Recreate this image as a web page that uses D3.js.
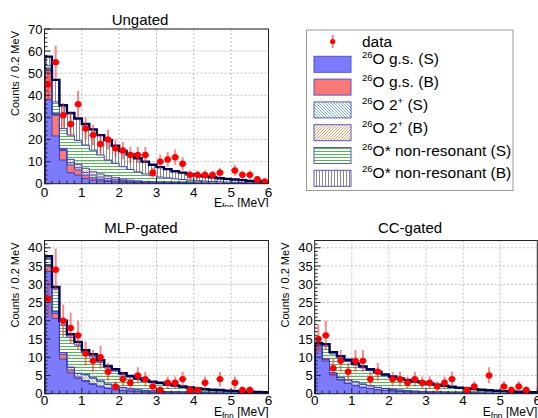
<!DOCTYPE html>
<html>
<head>
<meta charset="utf-8">
<script src="https://cdn.jsdelivr.net/npm/d3@7"></script>
<style>
  body { margin: 0; background: #fff; }
  svg { display: block; font-family: "Liberation Sans", Arial, sans-serif; }
</style>
</head>
<body>
<div id="chart"></div>
<script>
// 26O decay-energy spectra: stacked fit components + data, three gates
const W = 538, H = 418;
const BIN_W = 0.2;          // MeV per bin, 30 bins from 0 to 6
const N_BINS = 30;

const xTickValues = [0, 1, 2, 3, 4, 5, 6];
const ungatedTicks = [0, 10, 20, 30, 40, 50, 60, 70];
const gatedTicks = [0, 5, 10, 15, 20, 25, 30, 35, 40];

// ---------- Ungated ----------
const ungatedData = [45, 55, 31, 27, 36, 25, 22, 18, 20, 16, 15, 13, 13, 13, 5, 10, 11, 12, 9, 4, 4, 4, 4, 5, 0, 6, 4, 4, 2, 1];
const ungatedGsS = [38, 21.6, 10.7, 5, 3.9, 2.4, 1.7, 1.3, 1.0, 0.8, 0.6, 0.5, 0.4, 0.35, 0.3, 0.26, 0.23, 0.2, 0.18, 0.16, 0.14, 0.12, 0.11, 0.1, 0.09, 0.08, 0.07, 0.06, 0.05, 0.05];
const ungatedGsB = [13.2, 9.4, 4.3, 3.5, 2.3, 1.5, 1.0, 0.7, 0.5, 0.4, 0.3, 0.2, 0.2, 0.15, 0.12, 0.1, 0.08, 0.07, 0.06, 0.05, 0.04, 0.04, 0.03, 0.02, 0.02, 0.02, 0.02, 0.02, 0.02, 0.01];
const ungatedExS = [0.4, 0.3, 0.5, 1.0, 1.0, 1.2, 1.2, 1.0, 0.8, 0.6, 0.5, 0.4, 0.3, 0.25, 0.2, 0.16, 0.13, 0.11, 0.09, 0.08, 0.07, 0.06, 0.05, 0.05, 0.04, 0.03, 0.03, 0.02, 0.02, 0.02];
const ungatedExB = [0.4, 0.5, 0.5, 1.5, 1.6, 1.9, 1.5, 1.4, 1.2, 0.9, 0.7, 0.5, 0.4, 0.3, 0.23, 0.18, 0.16, 0.12, 0.11, 0.09, 0.08, 0.07, 0.06, 0.05, 0.04, 0.04, 0.03, 0.03, 0.02, 0.02];
const ungatedNrS = [1.4, 5.2, 9, 11, 10.7, 10.5, 9.8, 8.6, 7.2, 6.5, 5.6, 4.8, 4.0, 3.35, 2.75, 2.3, 2.0, 1.7, 1.46, 1.22, 1.02, 0.86, 0.75, 0.63, 0.51, 0.43, 0.35, 0.27, 0.19, 0.15];
const ungatedNrB = [4.1, 10, 10.5, 10, 10, 9.5, 9.4, 9, 9.1, 8, 7.1, 6.8, 6.2, 5.6, 5.0, 4.5, 4.0, 3.4, 3.1, 2.7, 2.45, 2.15, 1.9, 1.65, 1.5, 1.3, 1.1, 0.9, 0.8, 0.65];

// ---------- MLP-gated ----------
const mlpData = [26, 34, 20, 18, 16, 11, 9, 10, 6, 2, 4, 3, 5, 4, 2, 1, 3, 3, 4, 1, 1, 3, 0, 4, 0, 3, 1, 1, 0, 0];
const mlpGsS = [33.5, 20.6, 9.5, 5.7, 4.2, 3.3, 2.5, 1.9, 1.4, 1.1, 0.85, 0.7, 0.55, 0.45, 0.38, 0.32, 0.27, 0.23, 0.2, 0.17, 0.15, 0.13, 0.11, 0.1, 0.09, 0.08, 0.07, 0.06, 0.05, 0.05];
const mlpGsB = [1.5, 1.4, 1.2, 0.8, 0.4, 0.3, 0.25, 0.2, 0.17, 0.14, 0.12, 0.1, 0.09, 0.08, 0.07, 0.06, 0.05, 0.05, 0.04, 0.04, 0.03, 0.03, 0.03, 0.02, 0.02, 0.02, 0.02, 0.02, 0.01, 0.01];
const mlpExS = [0.3, 0.4, 0.5, 0.7, 0.9, 1.6, 1.5, 1.3, 1.0, 0.8, 0.65, 0.5, 0.42, 0.35, 0.3, 0.26, 0.22, 0.19, 0.16, 0.14, 0.12, 0.1, 0.09, 0.08, 0.07, 0.06, 0.05, 0.05, 0.04, 0.04];
const mlpExB = [0.1, 0.1, 0.1, 0.1, 0.1, 0.1, 0.1, 0.08, 0.07, 0.06, 0.05, 0.05, 0.04, 0.04, 0.03, 0.03, 0.03, 0.02, 0.02, 0.02, 0.02, 0.01, 0.01, 0.01, 0.01, 0.01, 0.01, 0.01, 0.01, 0.01];
const mlpNrS = [1.6, 6.4, 7.5, 8.2, 7.7, 5.8, 5.75, 5.1, 4.4, 4.1, 3.5, 3.15, 2.75, 2.45, 2.2, 2.05, 1.75, 1.55, 1.35, 1.15, 0.95, 0.8, 0.7, 0.64, 0.52, 0.42, 0.35, 0.27, 0.25, 0.19];
const mlpNrB = [0.7, 0.4, 1.2, 0.8, 0.9, 0.8, 0.7, 0.6, 0.55, 0.5, 0.45, 0.4, 0.36, 0.32, 0.3, 0.28, 0.26, 0.24, 0.22, 0.2, 0.18, 0.17, 0.16, 0.15, 0.14, 0.13, 0.12, 0.11, 0.1, 0.1];

// ---------- CC-gated ----------
const ccData = [15, 16, 7, 9, 6, 9, 9, 4, 6, 0, 4, 4, 3, 4, 3, 3, 2, 3, 4, 0, 1, 2, 0, 5, 0, 2, 1, 2, 1, 0];
const ccGsS = [12.4, 8.9, 5.1, 3.7, 2.8, 2.2, 1.7, 1.4, 1.1, 0.9, 0.75, 0.6, 0.5, 0.42, 0.36, 0.3, 0.26, 0.22, 0.19, 0.16, 0.14, 0.12, 0.1, 0.09, 0.08, 0.07, 0.06, 0.05, 0.05, 0.04];
const ccGsB = [0.6, 0.4, 0.3, 0.2, 0.15, 0.12, 0.1, 0.08, 0.07, 0.06, 0.05, 0.04, 0.04, 0.03, 0.03, 0.02, 0.02, 0.02, 0.02, 0.01, 0.01, 0.01, 0.01, 0.01, 0.01, 0.01, 0.01, 0.01, 0.01, 0.01];
const ccExS = [0.1, 0.2, 0.3, 0.5, 0.8, 0.9, 0.8, 0.7, 0.55, 0.45, 0.38, 0.3, 0.26, 0.22, 0.19, 0.16, 0.14, 0.12, 0.1, 0.09, 0.08, 0.07, 0.06, 0.05, 0.05, 0.04, 0.04, 0.03, 0.03, 0.03];
const ccExB = [0.05, 0.05, 0.05, 0.05, 0.05, 0.05, 0.05, 0.05, 0.05, 0.05, 0.05, 0.05, 0.05, 0.05, 0.05, 0.05, 0.05, 0.05, 0.04, 0.04, 0.04, 0.03, 0.03, 0.03, 0.02, 0.02, 0.02, 0.02, 0.02, 0.02];
const ccNrS = [0.35, 3.75, 5.15, 5.35, 5.0, 4.58, 4.45, 4.09, 3.88, 3.52, 3.17, 2.94, 2.7, 2.45, 2.26, 2.07, 1.85, 1.63, 1.4, 1.22, 1.06, 0.91, 0.8, 0.68, 0.58, 0.49, 0.41, 0.35, 0.29, 0.25];
const ccNrB = [0.4, 0.3, 0.5, 0.5, 0.5, 0.45, 0.4, 0.38, 0.35, 0.32, 0.3, 0.27, 0.25, 0.23, 0.21, 0.2, 0.18, 0.16, 0.15, 0.13, 0.12, 0.11, 0.1, 0.09, 0.08, 0.07, 0.06, 0.06, 0.05, 0.05];

const layerKeys = ["gsS", "gsB", "exS", "exB", "nrS", "nrB"];
const legendEntries = [
  { key: "gsS", parts: [["sup", "26"], ["n", "O g.s. (S)"]] },
  { key: "gsB", parts: [["sup", "26"], ["n", "O g.s. (B)"]] },
  { key: "exS", parts: [["sup", "26"], ["n", "O 2"], ["sup", "+"], ["n", " (S)"]] },
  { key: "exB", parts: [["sup", "26"], ["n", "O 2"], ["sup", "+"], ["n", " (B)"]] },
  { key: "nrS", parts: [["sup", "26"], ["n", "O* non-resonant (S)"]] },
  { key: "nrB", parts: [["sup", "26"], ["n", "O* non-resonant (B)"]] }
];

const fills = {
  gsS: "#7b7bfc",
  gsB: "#f97878",
  exS: "url(#hatchExS)",
  exB: "url(#hatchExB)",
  nrS: "url(#hatchNrS)",
  nrB: "url(#hatchNrB)"
};
const outlineColor = "#4040b8";
const totalColor = "#000050";
const dataColor = "#ff0000";

const svg = d3.select("#chart").append("svg")
  .attr("width", W).attr("height", H)
  .attr("viewBox", `0 0 ${W} ${H}`);

const defs = svg.append("defs");

// hatch patterns (ROOT-style fill styles 3004/3005/3006/3007)
function addHatch(id, w, h, segs, color, sw) {
  const p = defs.append("pattern").attr("id", id)
    .attr("patternUnits", "userSpaceOnUse").attr("width", w).attr("height", h);
  segs.forEach(s => {
    p.append("line").attr("x1", s[0]).attr("y1", s[1]).attr("x2", s[2]).attr("y2", s[3])
      .style("stroke", color).style("stroke-width", sw);
  });
}
addHatch("hatchExS", 3, 3, [[0, 0, 3, 3], [-1, 2, 1, 4], [2, -1, 4, 1]], "#6aa3e0", 0.9);
addHatch("hatchExB", 3, 3, [[0, 3, 3, 0], [-1, 1, 1, -1], [2, 4, 4, 2]], "#f29050", 0.9);
addHatch("hatchNrS", 4, 3, [[0, 1.5, 4, 1.5]], "#40b040", 0.9);
addHatch("hatchNrB", 3, 4, [[1.5, 0, 1.5, 4]], "#7c7c7c", 0.9);

defs.append("clipPath").attr("id", "upper-pads")
  .append("rect").attr("x", 0).attr("y", 0).attr("width", W).attr("height", 207);

const panels = [
  {
    id: "ungated", title: "Ungated", titleX: 140, titleY: 24.5,
    left: 44.5, right: 268.5, top: 29, bottom: 183.7, yMax: 70, yTicks: ungatedTicks, yMinor: 2,
    yTitleX: 19, xLabelY: 197, xTitleY: 207, clip: "upper-pads",
    data: ungatedData, layers: { gsS: ungatedGsS, gsB: ungatedGsB, exS: ungatedExS, exB: ungatedExB, nrS: ungatedNrS, nrB: ungatedNrB }
  },
  {
    id: "mlp", title: "MLP-gated", titleX: 141, titleY: 233,
    left: 44.5, right: 268.5, top: 240.5, bottom: 393.7, yMax: 42, yTicks: gatedTicks, yMinor: 1,
    yTitleX: 19, xLabelY: 405, xTitleY: 416, clip: null,
    data: mlpData, layers: { gsS: mlpGsS, gsB: mlpGsB, exS: mlpExS, exB: mlpExB, nrS: mlpNrS, nrB: mlpNrB }
  },
  {
    id: "cc", title: "CC-gated", titleX: 410, titleY: 233,
    left: 314.7, right: 537.3, top: 240.5, bottom: 393.7, yMax: 42, yTicks: gatedTicks, yMinor: 1,
    yTitleX: 289, xLabelY: 405, xTitleY: 416, clip: null,
    data: ccData, layers: { gsS: ccGsS, gsB: ccGsB, exS: ccExS, exB: ccExB, nrS: ccNrS, nrB: ccNrB }
  }
];

panels.forEach(drawPanel);
drawLegend();

function drawPanel(p) {
  const g = svg.append("g");
  if (p.clip) g.attr("clip-path", `url(#${p.clip})`);

  const x = d3.scaleLinear().domain([0, N_BINS * BIN_W]).range([p.left, p.right]);
  const y = d3.scaleLinear().domain([0, p.yMax]).range([p.bottom, p.top]);

  defs.append("clipPath").attr("id", `frame-${p.id}`)
    .append("rect").attr("x", p.left).attr("y", p.top)
    .attr("width", p.right - p.left).attr("height", p.bottom - p.top);

  // dashed grid
  const grid = g.append("g").attr("stroke", "#b0b0b0").attr("stroke-dasharray", "2,2").attr("stroke-width", 0.8);
  grid.selectAll("line.gx").data(xTickValues.slice(1, -1)).join("line").attr("class", "gx")
    .attr("x1", d => x(d)).attr("x2", d => x(d)).attr("y1", p.top).attr("y2", p.bottom);
  grid.selectAll("line.gy").data(p.yTicks.filter(d => d > 0)).join("line").attr("class", "gy")
    .attr("x1", p.left).attr("x2", p.right).attr("y1", d => y(d)).attr("y2", d => y(d));

  // stacked histogram
  const rows = p.data.map((d, i) => {
    const r = { i };
    layerKeys.forEach(k => { r[k] = p.layers[k][i]; });
    return r;
  });
  const series = d3.stack().keys(layerKeys)(rows);

  const plot = g.append("g").attr("clip-path", `url(#frame-${p.id})`);
  const area = d3.area().x(d => x(d[0])).y0(d => y(d[1])).y1(d => y(d[2]));
  const line = d3.line().x(d => x(d[0])).y(d => y(d[1]));

  series.forEach(s => {
    const pts = s.flatMap((d, i) => [[i * BIN_W, d[0], d[1]], [(i + 1) * BIN_W, d[0], d[1]]]);
    plot.append("path").attr("d", area(pts)).attr("fill", fills[s.key]);
  });
  const stepTop = s => [[0, 0]].concat(
    s.flatMap((d, i) => [[i * BIN_W, d[1]], [(i + 1) * BIN_W, d[1]]]),
    [[N_BINS * BIN_W, 0]]);
  series.forEach(s => {
    plot.append("path").attr("d", line(stepTop(s)))
      .attr("fill", "none").attr("stroke", outlineColor).attr("stroke-width", 1);
  });
  // total as thick navy line
  plot.append("path").attr("d", line(stepTop(series[series.length - 1])))
    .attr("fill", "none").attr("stroke", totalColor).attr("stroke-width", 2.4);

  // data points with Poisson errors
  const pts = p.data.map((v, i) => ({ c: (i + 0.5) * BIN_W, lo: i * BIN_W, hi: (i + 1) * BIN_W, v }))
    .filter(d => d.v > 0);
  const dg = plot.append("g");
  dg.selectAll("line.ev").data(pts).join("line").attr("class", "ev")
    .attr("x1", d => x(d.c)).attr("x2", d => x(d.c))
    .attr("y1", d => y(d.v - Math.sqrt(d.v))).attr("y2", d => y(d.v + Math.sqrt(d.v)))
    .attr("stroke", "rgba(240,40,40,0.55)").attr("stroke-width", 2);
  dg.selectAll("line.eh").data(pts).join("line").attr("class", "eh")
    .attr("x1", d => x(d.lo)).attr("x2", d => x(d.hi))
    .attr("y1", d => y(d.v)).attr("y2", d => y(d.v))
    .attr("stroke", "rgba(240,40,40,0.7)").attr("stroke-width", 2);
  dg.selectAll("circle").data(pts).join("circle")
    .attr("cx", d => x(d.c)).attr("cy", d => y(d.v)).attr("r", 3.2)
    .attr("fill", dataColor);

  // frame and inward ticks
  const ax = g.append("g").attr("stroke", "#222").attr("stroke-width", 1);
  ax.append("rect").attr("x", p.left).attr("y", p.top)
    .attr("width", p.right - p.left).attr("height", p.bottom - p.top).attr("fill", "none");
  const xMinor = d3.range(0, N_BINS + 1).map(i => i * BIN_W);
  ax.selectAll("line.xt").data(xMinor).join("line").attr("class", "xt")
    .attr("x1", d => x(d)).attr("x2", d => x(d))
    .attr("y1", p.bottom).attr("y2", (d, i) => p.bottom - (i % 5 === 0 ? 6 : 3));
  const yMinor = d3.range(0, p.yMax + 0.001, p.yMinor);
  ax.selectAll("line.yt").data(yMinor).join("line").attr("class", "yt")
    .attr("x1", p.left).attr("x2", d => p.left + (p.yTicks.includes(d) ? 6 : 3))
    .attr("y1", d => y(d)).attr("y2", d => y(d));

  // tick labels
  g.append("g").selectAll("text").data(p.yTicks).join("text")
    .attr("x", p.left - 2).attr("y", d => y(d)).attr("dy", "0.36em")
    .attr("text-anchor", "end").attr("font-size", 13).attr("fill", "#000")
    .text(d => d);
  g.append("g").selectAll("text").data(xTickValues).join("text")
    .attr("x", d => x(d)).attr("y", p.xLabelY)
    .attr("text-anchor", "middle").attr("font-size", 13.5).attr("fill", "#000")
    .text(d => d);

  // titles
  g.append("text").attr("x", p.titleX).attr("y", p.titleY)
    .attr("text-anchor", "middle").attr("font-size", 15).text(p.title);

  g.append("text")
    .attr("transform", `translate(${p.yTitleX},${p.top + 2}) rotate(-90)`)
    .attr("text-anchor", "end").attr("font-size", 11).text("Counts / 0.2 MeV");

  const xt = g.append("text").attr("x", p.right).attr("y", p.xTitleY)
    .attr("text-anchor", "end").attr("font-size", 12);
  xt.append("tspan").text("E");
  xt.append("tspan").attr("font-size", 8.5).attr("dy", 3).text("fnn");
  xt.append("tspan").attr("dy", -3).text(" [MeV]");
}

function drawLegend() {
  const lg = svg.append("g");
  const lx = 306.5, ly = 30, lw = 206.5, lh = 160.5;
  lg.append("rect").attr("x", lx).attr("y", ly).attr("width", lw).attr("height", lh)
    .attr("fill", "#fff").attr("stroke", "#999").attr("stroke-width", 1);

  const swX = 314, swW = 37, swH = 16, textX = 362;
  const rowY = i => 41.5 + 22.8 * i;

  // data entry
  lg.append("line").attr("x1", 332.7).attr("x2", 332.7).attr("y1", rowY(0) - 6.5).attr("y2", rowY(0) + 6.5)
    .attr("stroke", "rgba(240,40,40,0.6)").attr("stroke-width", 2);
  lg.append("circle").attr("cx", 332.7).attr("cy", rowY(0)).attr("r", 2.6).attr("fill", dataColor);
  lg.append("text").attr("x", textX).attr("y", rowY(0)).attr("dy", "0.36em")
    .attr("font-size", 15.5).text("data");

  legendEntries.forEach((e, k) => {
    const cy = rowY(k + 1);
    lg.append("rect").attr("x", swX).attr("y", cy - swH / 2).attr("width", swW).attr("height", swH)
      .attr("fill", fills[e.key]).attr("stroke", "#5656c8").attr("stroke-width", 1);
    const t = lg.append("text").attr("x", textX).attr("y", cy).attr("dy", "0.36em").attr("font-size", 15.5);
    let raised = false;
    e.parts.forEach(([kind, str]) => {
      const ts = t.append("tspan").text(str);
      if (kind === "sup") {
        ts.attr("font-size", 9.5).attr("dy", raised ? 0 : -6);
        raised = true;
      } else {
        if (raised) ts.attr("dy", 6);
        raised = false;
      }
    });
  });
}
</script>
</body>
</html>
